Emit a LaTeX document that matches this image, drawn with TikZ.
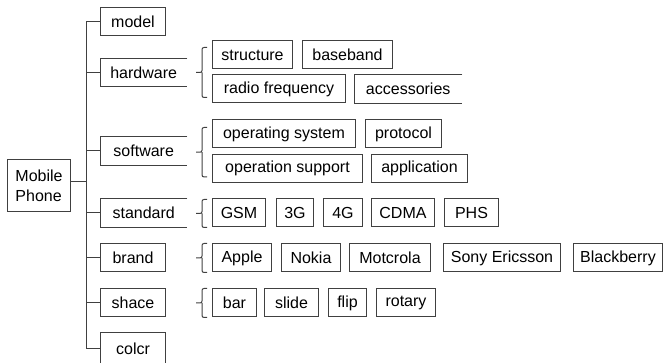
\documentclass[tikz,border=0pt]{standalone}
\usepackage{fontspec}
\setmainfont{Liberation Sans}
\usepackage{tikz}
\usetikzlibrary{calc}

\begin{document}
\begin{tikzpicture}[
    x=1pt, y=-1pt,
    font=\fontsize{16}{20}\selectfont,
    every node/.style = {text=black},
    leaf/.style = {
        draw=black!75, line width=1pt, anchor=west, minimum width=#1,
        minimum height=28pt, inner xsep=6pt, inner ysep=0pt
    },
    open/.style = {
        anchor=west, minimum width=#1, minimum height=28pt, inner xsep=6pt
    },
    line/.style = {draw=black!75, line width=1pt},
    brace/.style = {
        line, rounded corners=2pt,
        to path={(\tikztostart) -- ++(-5,0)
            -- ($(\tikztostart)!.5!(\tikztotarget)+(-5,0)$) -- ++(-6,0) ++(6,0)
            -- ($(\tikztotarget)+(-5,0)$) -- (\tikztotarget)}
    }
]
\useasboundingbox (0,0) rectangle (665,363);

% Root
\node[leaf=63pt, minimum height=52pt, align=left] (phone) at (7,186) {Mobile\\Phone};
\coordinate (trunk) at (86,0);

% Level 1 ── categories
\node[leaf=65pt]  (model)    at (100,22)    {model};
\node[open=87pt]  (hardware) at (100,72.5)  {hardware};
\node[open=87pt]  (software) at (100,151)   {software};
\node[open=87pt]  (standard) at (100,213)   {standard};
\node[leaf=65pt]  (brand)    at (100,258)   {brand};
\node[leaf=65pt]  (shape)    at (100,302.5) {shace};
\node[leaf=65pt, minimum height=32pt] (color) at (100,349) {colcr};

% open boxes
\foreach \n in {hardware, software, standard}
    \draw[line] (\n.north east) -| (\n.south west) -- (\n.south east);

% Trunk and branches
\draw[line] ([yshift=4pt]phone.east) -- ([yshift=4pt]phone.east -| trunk);
\draw[line] (model.west) -- (model.west -| trunk) |- (color.west);
\foreach \n in {hardware, software, standard, brand, shape}
    \draw[line] (\n.west) -- (\n.west -| trunk);

% Level 2 ── hardware
\node[leaf=80pt]  (struct) at (212,55) {structure};
\node[leaf=90pt]  (base)   at (302,55) {baseband};
\node[leaf=133pt] (radio)  at (212,89) {radio frequency};
\node[open=108pt] (acc)    at (354,89) {accessories};
\draw[line] (acc.north east) -| (acc.south west) -- (acc.south east);

% Level 2 ── software
\node[leaf=143pt] (opsys)  at (212,134)   {operating system};
\node[leaf=76pt]  (proto)  at (365,134)   {protocol};
\node[leaf=150pt] (opsup)  at (212,168.5) {operation support};
\node[leaf=96pt]  (appl)   at (371,168.5) {application};

% Level 2 ── standard
\node[leaf=53pt]  (gsm)  at (212,213) {GSM};
\node[leaf=37pt]  (g3)   at (276,213) {3G};
\node[leaf=39pt]  (g4)   at (323,213) {4G};
\node[leaf=63pt]  (cdma) at (371,213) {CDMA};
\node[leaf=54pt]  (phs)  at (444,213) {PHS};

% Level 2 ── brand
\node[leaf=59pt]  (apple)    at (212,258) {Apple};
\node[leaf=59pt]  (nokia)    at (281,258) {Nokia};
\node[leaf=81pt]  (motorola) at (349,258) {Motcrola};
\node[leaf=117pt] (sony)     at (443,258) {Sony Ericsson};
\node[leaf=89pt]  (black)    at (573,258) {Blackberry};

% Level 2 ── shape
\node[leaf=44pt]  (bar)    at (212,303) {bar};
\node[leaf=54pt]  (slide)  at (264,303) {slide};
\node[leaf=38pt]  (flip)   at (328,303) {flip};
\node[leaf=59pt]  (rotary) at (376,303) {rotary};

% Braces
\draw[brace] ([shift={(-5,7)}]struct.north west)  to ([shift={(-5,-6)}]radio.south west);
\draw[brace] ([shift={(-5,8)}]opsys.north west)   to ([shift={(-5,-6)}]opsup.south west);
\draw[brace] ([shift={(-5,1)}]gsm.north west)     to ([shift={(-5,0)}]gsm.south west);
\draw[brace] ([shift={(-5,0)}]apple.north west)   to ([shift={(-5,0)}]apple.south west);
\draw[brace] ([shift={(-5,0)}]bar.north west)     to ([shift={(-5,0)}]bar.south west);

\end{tikzpicture}
\end{document}
